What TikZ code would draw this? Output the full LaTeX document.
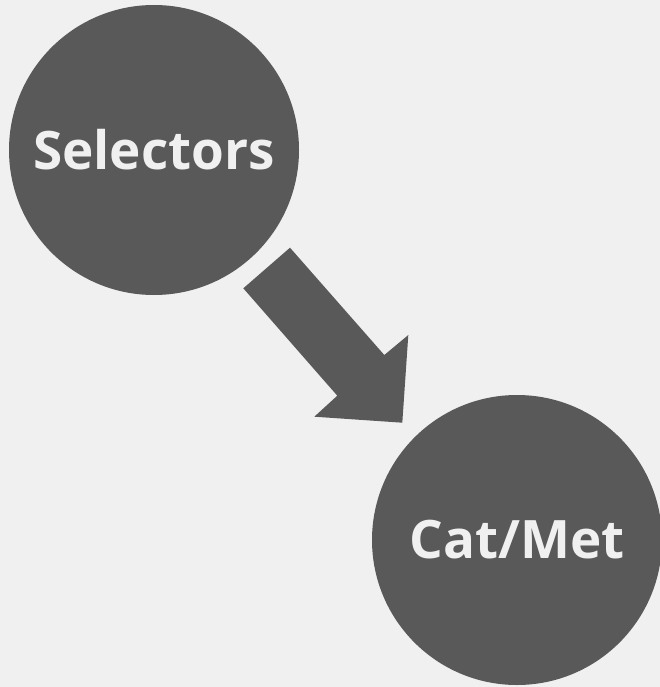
\documentclass[tikz,border=0pt]{standalone}
\usepackage{fontspec}
\setmainfont{Open Sans}
\definecolor{bg}{HTML}{F0F0F0}
\definecolor{fillc}{HTML}{595959}
\begin{document}
\begin{tikzpicture}[x=1pt,y=-1pt,
  blob/.style={circle,fill=fillc,draw=none,minimum size=290pt,inner sep=0pt,
    text=bg,font=\bfseries\fontsize{53}{60}\selectfont}]
\useasboundingbox[fill=bg] (0,0) rectangle (660,687);
\node[blob] (sel) at (154,150) {Selectors};
\node[blob] (cat) at (517,540) {Cat/Met};
\coordinate (s1) at (243.3,288.3);
\coordinate (s2) at (290,247.7);
\coordinate (n2) at (384.3,355);
\coordinate (h2) at (408.3,335);
\coordinate (tip) at (402.3,422.7);
\coordinate (h1) at (314.3,416.7);
\coordinate (n1) at (337.3,395.7);
\fill[fillc] (s1) -- (s2) -- (n2) -- (h2) -- (tip) -- (h1) -- (n1) -- cycle;
\end{tikzpicture}
\end{document}
